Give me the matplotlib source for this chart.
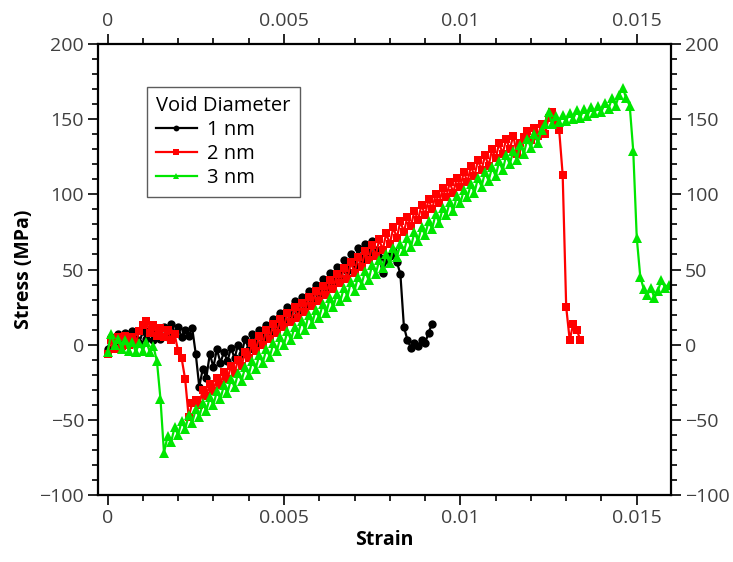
import numpy as np
import matplotlib
matplotlib.use("Agg")
import matplotlib.pyplot as plt
from matplotlib.ticker import MultipleLocator, FuncFormatter

plt.rcParams['font.family'] = ['Open Sans', 'DejaVu Sans']

step = 0.0001
stress_1nm = [-3, 5, 1, 7, 2, 8, 3, 9, 4, 1,
              9, 4, 10, 3, 8, 4, 12, 5, 14, 8,
              12, 5, 10, 6, 11, -6, -28, -16, -22, -6,
              -15, -3, -12, -5, -11, -2, -9, 0, -6, 4,
              -3, 7, 0, 10, 4, 13, 7, 17, 11, 21,
              15, 25, 18, 29, 22, 32, 26, 36, 30, 40,
              33, 44, 37, 48, 41, 52, 45, 56, 49, 60,
              53, 64, 57, 67, 60, 69, 63, 58, 48, 56,
              59, 62, 55, 47, 12, 3, -2, 1, -1, 3,
              1, 8, 14]
stress_2nm = [-6, 3, -3, 5, -1, 6, 0, 5, 1, 9,
              13, 16, 8, 13, 6, 11, 5, 10, 3, 7,
              -4, -9, -23, -48, -39, -37, -40, -30, -34, -26,
              -31, -22, -27, -18, -23, -14, -19, -10, -14, -5,
              -9, 1, -4, 6, 0, 10, 4, 14, 8, 17,
              12, 21, 15, 25, 18, 28, 22, 32, 26, 36,
              29, 39, 33, 43, 37, 47, 41, 51, 44, 55,
              48, 58, 52, 62, 56, 66, 59, 70, 63, 74,
              67, 78, 71, 82, 75, 85, 79, 89, 83, 93,
              86, 97, 90, 100, 94, 104, 98, 108, 101, 111,
              105, 115, 108, 119, 112, 123, 116, 126, 119, 130,
              124, 134, 127, 137, 130, 139, 127, 134, 138, 142,
              136, 144, 139, 147, 140, 151, 155, 147, 143, 113,
              25, 3, 14, 10, 3]
stress_3nm = [-5, 7, 0, 4, -3, 3, -4, 2, -5, 1,
              -4, 2, -5, -1, -11, -36, -72, -61, -65, -55,
              -60, -51, -56, -47, -52, -43, -48, -39, -44, -35,
              -40, -31, -36, -27, -32, -23, -28, -19, -24, -15,
              -20, -11, -16, -7, -12, -3, -8, 1, -4, 5,
              0, 9, 3, 12, 7, 16, 10, 20, 14, 23,
              18, 27, 21, 31, 25, 34, 29, 38, 32, 42,
              36, 45, 40, 49, 43, 53, 47, 56, 51, 60,
              54, 64, 58, 67, 62, 71, 65, 75, 69, 78,
              73, 82, 77, 87, 81, 91, 86, 95, 89, 99,
              94, 103, 98, 107, 101, 111, 105, 115, 109, 118,
              112, 122, 116, 126, 120, 129, 123, 133, 127, 137,
              131, 140, 134, 143, 147, 155, 147, 152, 148, 153,
              149, 154, 150, 156, 151, 157, 152, 158, 154, 159,
              155, 161, 157, 164, 159, 166, 171, 164, 159, 129,
              71, 45, 37, 33, 38, 31, 36, 43, 38, 40]
labels = ["1 nm", "2 nm", "3 nm"]
legend_title = "Void Diameter"

series = [stress_1nm, stress_2nm, stress_3nm]
colors = ["black", "#ff0000", "#00e600"]
markers = ["o", "s", "^"]
msizes = [6, 6, 7]

fig = plt.figure(figsize=(7.33, 5.62), dpi=100)
ax = fig.add_axes([0.1337, 0.1192, 0.9154 - 0.1337, 0.9217 - 0.1192])

for s, c, m, ms, lab in zip(series, colors, markers, msizes, labels):
    x = np.arange(len(s)) * step
    ax.plot(x, s, color=c, marker=m, markersize=ms, linewidth=1.6,
            markeredgewidth=0, label=lab)

ax.set_xlim(-0.00027, 0.01597)
ax.set_ylim(-100, 200)
ax.xaxis.set_major_locator(MultipleLocator(0.005))
ax.xaxis.set_minor_locator(MultipleLocator(0.001))
ax.yaxis.set_major_locator(MultipleLocator(50))
ax.yaxis.set_minor_locator(MultipleLocator(10))

def xfmt(v, p):
    if abs(v) < 1e-12:
        return "0"
    return ("%g" % v)
ax.xaxis.set_major_formatter(FuncFormatter(xfmt))
ax.yaxis.set_major_formatter(FuncFormatter(lambda v, p: ("%d" % v).replace("-", "\u2212")))

ax.tick_params(which='both', direction='out', top=True, right=True,
               labeltop=True, labelright=True, labelsize=14,
               labelcolor='#404040', width=1.2, pad=3)
ax.tick_params(which='major', length=7)
ax.tick_params(which='minor', length=4)
for sp in ax.spines.values():
    sp.set_linewidth(1.6)

ax.set_xlabel("Strain", fontsize=14, fontweight='bold', labelpad=2)
ax.set_ylabel("Stress (MPa)", fontsize=14, fontweight='bold', labelpad=4)

leg = ax.legend(title=legend_title, loc='upper left', bbox_to_anchor=(0.086, 0.905),
                fontsize=14.5, title_fontsize=14.5, frameon=True, fancybox=False,
                borderaxespad=0, handlelength=2.0, markerscale=0.7,
                labelspacing=0.2, handletextpad=0.5, borderpad=0.45)
leg._legend_box.align = "left"
leg.get_frame().set_edgecolor('#333333')
leg.get_frame().set_linewidth(1.0)

fig.savefig("out.png", dpi=100)
